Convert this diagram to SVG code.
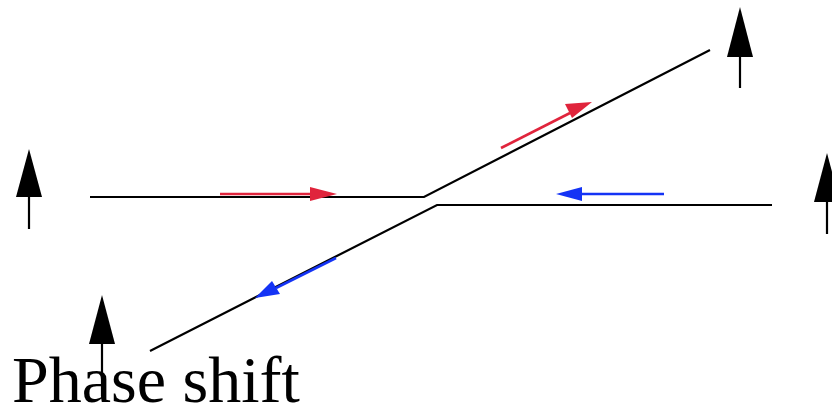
<svg xmlns="http://www.w3.org/2000/svg" width="832" height="409" viewBox="0 0 832 409">
<style>
.ln{stroke:#000;stroke-width:2.2;fill:none}
.up{fill:#000}
.stem{stroke:#000;stroke-width:2.2}
.red{stroke:#e0243c;stroke-width:2.6;fill:none}
.blue{stroke:#1433f5;stroke-width:2.6;fill:none}
</style>
<g id="connectors">
<path class="ln" d="M90,197 L424,197 L710,50"/>
<path class="ln" d="M150,351 L437,205 L772,205"/>
</g>
<g id="red-h">
<line class="red" x1="220" y1="194" x2="312" y2="194"/>
<path d="M310,187 L337,194 L310,201 Z" fill="#e0243c"/>
</g>
<g id="red-d">
<line class="red" x1="501" y1="148" x2="570" y2="113"/>
<path d="M565,104 L592,102 L572,118 Z" fill="#e0243c"/>
</g>
<g id="blue-h">
<line class="blue" x1="664" y1="194" x2="580" y2="194"/>
<path d="M582,187 L556,194 L582,201 Z" fill="#1433f5"/>
</g>
<g id="blue-d">
<line class="blue" x1="336" y1="258" x2="276" y2="288"/>
<path d="M272,281 L255,298 L280,294 Z" fill="#1433f5"/>
</g>
<g id="up1">
<line class="stem" x1="29" y1="196" x2="29" y2="229"/>
<path class="up" d="M29,149 L42,197 L16,197 Z"/>
</g>
<g id="up2">
<line class="stem" x1="740" y1="56" x2="740" y2="88"/>
<path class="up" d="M740,7 L753,57 L727,57 Z"/>
</g>
<g id="up3">
<line class="stem" x1="827" y1="201" x2="827" y2="234"/>
<path class="up" d="M827,153 L840,202 L814,202 Z"/>
</g>
<g id="up4">
<line class="stem" x1="102" y1="343" x2="102" y2="396"/>
<path class="up" d="M102,295 L115,344 L89,344 Z"/>
</g>
<g id="label">
<text x="12" y="402" font-family="Liberation Serif, serif" font-size="66">Phase shift</text>
</g>
</svg>
